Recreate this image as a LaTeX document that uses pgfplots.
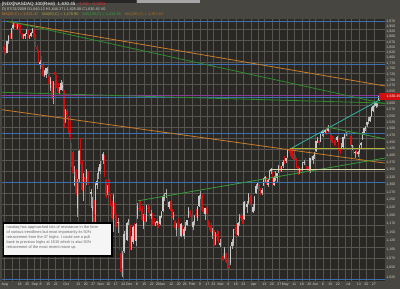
\documentclass[border=0pt]{standalone}
\usepackage{pgfplots}
\pgfplotsset{compat=1.18}
\usepackage{pgfplotstable}
\usepackage{fontspec}
\setmainfont{Liberation Sans}
\definecolor{framec}{HTML}{474640}
\definecolor{plotbg}{HTML}{2A2825}
\definecolor{gridc}{HTML}{57554F}
\definecolor{labc}{HTML}{D0D0C8}
\definecolor{upc}{HTML}{CACACA}
\definecolor{upw}{HTML}{A8A8A8}
\definecolor{dnc}{HTML}{D01010}
\definecolor{orc}{HTML}{C87D2A}
\definecolor{grc}{HTML}{2E8B2E}
\definecolor{gr3}{HTML}{3A9A3A}
\definecolor{fibc}{HTML}{3D6FB0}
\definecolor{tealc}{HTML}{2FB8A0}
\definecolor{yel1}{HTML}{B0B035}
\definecolor{yel2}{HTML}{D8D8A8}
\definecolor{purc}{HTML}{8A3A9A}
\definecolor{hdrred}{HTML}{E03030}
\definecolor{ma1}{HTML}{D08030}
\definecolor{ma2}{HTML}{B8A840}
\definecolor{ma3}{HTML}{40A040}
\definecolor{ma4}{HTML}{B07020}

\pgfplotstableread{
i O H L C
0 1858 1862 1822 1838
1 1838 1845 1815 1820
2 1825 1880 1822 1878
3 1876 1910 1868 1905
4 1900 1918 1888 1893
5 1895 1945 1890 1942
6 1945 1975 1938 1960
7 1958 1972 1948 1955
8 1952 1965 1935 1950
9 1945 1968 1940 1962
10 1962 1970 1945 1950
11 1952 1958 1912 1918
12 1915 1920 1890 1895
13 1898 1915 1892 1910
14 1905 1918 1890 1912
15 1915 1938 1912 1935
16 1930 1932 1895 1898
17 1898 1910 1890 1905
18 1905 1925 1900 1918
19 1920 1945 1918 1940
20 1935 1937 1895 1898
21 1905 1912 1850 1855
22 1852 1860 1825 1840
23 1835 1838 1778 1780
24 1768 1790 1750 1782
25 1805 1810 1758 1775
26 1772 1778 1718 1720
27 1725 1745 1712 1738
28 1725 1755 1710 1752
29 1740 1760 1728 1750
30 1718 1735 1680 1682
31 1668 1712 1652 1705
32 1695 1698 1620 1622
33 1630 1695 1600 1690
34 1735 1752 1700 1722
35 1718 1722 1665 1668
36 1670 1688 1645 1650
37 1655 1672 1640 1655
38 1660 1702 1658 1688
39 1665 1692 1655 1678
40 1655 1660 1505 1520
41 1530 1580 1525 1575
42 1570 1578 1540 1555
43 1548 1552 1480 1482
44 1495 1530 1462 1468
45 1440 1445 1360 1410
46 1415 1425 1335 1338
47 1300 1365 1295 1330
48 1345 1355 1265 1270
49 1225 1320 1195 1285
50 1320 1420 1305 1418
51 1450 1465 1370 1385
52 1375 1380 1280 1282
53 1290 1340 1245 1335
54 1325 1365 1300 1310
55 1320 1355 1300 1350
56 1342 1348 1300 1305
57 1290 1295 1230 1262
58 1270 1285 1225 1275
59 1215 1260 1180 1228
60 1222 1250 1175 1192
61 1205 1305 1180 1300
62 1300 1340 1285 1312
63 1335 1360 1320 1352
64 1345 1380 1335 1370
65 1368 1385 1355 1362
66 1385 1412 1370 1405
67 1398 1402 1325 1328
68 1315 1320 1255 1262
69 1275 1300 1265 1295
70 1315 1318 1262 1275
71 1268 1272 1232 1250
72 1238 1245 1190 1192
73 1195 1268 1150 1262
74 1240 1258 1198 1205
75 1190 1205 1165 1172
76 1180 1192 1148 1180
77 1172 1180 1098 1100
78 1092 1108 1030 1038
79 1050 1095 1025 1088
80 1095 1155 1090 1145
81 1150 1158 1120 1135
82 1128 1182 1125 1178
83 1180 1190 1172 1185
84 1170 1172 1100 1102
85 1110 1140 1098 1135
86 1122 1170 1115 1165
87 1162 1178 1128 1135
88 1125 1178 1110 1175
89 1195 1240 1190 1230
90 1225 1248 1212 1222
91 1232 1245 1215 1228
92 1220 1230 1185 1188
93 1170 1205 1160 1200
94 1202 1205 1172 1182
95 1185 1235 1180 1232
96 1225 1235 1210 1220
97 1222 1230 1190 1198
98 1200 1218 1190 1205
99 1205 1210 1172 1180
100 1185 1192 1170 1175
101 1175 1180 1168 1178
102 1178 1185 1172 1182
103 1180 1182 1162 1172
104 1175 1200 1172 1198
105 1195 1215 1192 1210
106 1215 1265 1212 1262
107 1258 1272 1245 1260
108 1268 1285 1255 1270
109 1255 1258 1228 1232
110 1228 1245 1222 1243
111 1245 1248 1215 1218
112 1215 1220 1192 1198
113 1195 1212 1188 1200
114 1185 1188 1158 1162
115 1158 1178 1140 1175
116 1182 1192 1162 1180
117 1175 1178 1130 1132
118 1140 1178 1135 1175
119 1160 1168 1145 1150
120 1140 1165 1132 1158
121 1160 1182 1155 1170
122 1172 1188 1168 1185
123 1195 1228 1192 1222
124 1215 1218 1195 1198
125 1198 1205 1172 1175
126 1165 1185 1158 1180
127 1182 1202 1172 1200
128 1205 1222 1195 1198
129 1192 1232 1185 1228
130 1230 1265 1228 1262
131 1262 1278 1252 1268
132 1262 1268 1212 1218
133 1218 1228 1205 1215
134 1205 1225 1188 1222
135 1222 1228 1205 1208
136 1185 1188 1165 1168
137 1172 1180 1158 1168
138 1172 1178 1148 1150
139 1140 1162 1130 1152
140 1152 1158 1110 1112
141 1115 1152 1112 1148
142 1145 1158 1125 1140
143 1145 1155 1120 1122
144 1112 1130 1108 1118
145 1108 1112 1075 1078
146 1082 1092 1068 1072
147 1080 1108 1075 1100
148 1090 1092 1062 1065
149 1068 1075 1048 1062
150 1058 1072 1043 1050
151 1062 1110 1058 1108
152 1110 1130 1102 1122
153 1120 1160 1110 1158
154 1160 1165 1145 1158
155 1165 1175 1140 1142
156 1142 1180 1138 1178
157 1178 1205 1168 1195
158 1198 1208 1185 1192
159 1195 1202 1175 1180
160 1190 1245 1188 1242
161 1238 1245 1222 1225
162 1228 1248 1210 1235
163 1240 1272 1238 1268
164 1260 1265 1238 1242
165 1225 1228 1198 1205
166 1212 1238 1208 1228
167 1222 1262 1215 1260
168 1272 1302 1268 1295
169 1295 1308 1285 1305
170 1298 1302 1280 1295
171 1285 1290 1265 1268
172 1272 1288 1265 1282
173 1298 1322 1295 1320
174 1318 1328 1308 1325
175 1320 1325 1300 1305
176 1300 1318 1292 1315
177 1318 1350 1315 1345
178 1345 1358 1335 1352
179 1340 1342 1300 1302
180 1298 1328 1295 1325
181 1318 1345 1312 1318
182 1322 1340 1310 1338
183 1342 1368 1340 1362
184 1355 1365 1348 1352
185 1345 1365 1342 1355
186 1362 1385 1358 1378
187 1385 1398 1372 1380
188 1382 1392 1375 1390
189 1395 1425 1392 1422
190 1420 1428 1410 1418
191 1425 1430 1400 1420
192 1420 1425 1388 1392
193 1400 1410 1385 1398
194 1390 1402 1382 1385
195 1388 1392 1358 1368
196 1360 1362 1332 1335
197 1338 1358 1335 1352
198 1350 1360 1340 1345
199 1352 1378 1348 1375
200 1375 1385 1368 1378
201 1380 1392 1365 1370
202 1362 1365 1345 1352
203 1355 1360 1345 1348
204 1345 1392 1340 1390
205 1388 1398 1378 1380
206 1385 1402 1372 1398
207 1400 1412 1390 1410
208 1418 1455 1415 1452
209 1450 1468 1445 1460
210 1455 1458 1438 1448
211 1452 1482 1450 1480
212 1485 1495 1472 1490
213 1485 1495 1470 1488
214 1490 1500 1482 1495
215 1498 1505 1475 1490
216 1492 1515 1488 1500
217 1495 1500 1482 1492
218 1478 1480 1452 1458
219 1460 1472 1448 1450
220 1450 1458 1435 1448
221 1448 1460 1440 1445
222 1458 1472 1452 1468
223 1458 1460 1418 1420
224 1422 1428 1408 1418
225 1428 1448 1425 1435
226 1432 1470 1430 1468
227 1465 1482 1462 1478
228 1480 1490 1472 1485
229 1485 1492 1468 1478
230 1485 1495 1478 1482
231 1470 1472 1440 1442
232 1435 1440 1420 1438
233 1432 1435 1405 1408
234 1410 1418 1392 1412
235 1418 1420 1402 1410
236 1405 1418 1395 1412
237 1415 1440 1405 1438
238 1438 1450 1430 1445
239 1462 1490 1458 1488
240 1485 1505 1480 1502
241 1500 1512 1492 1508
242 1515 1528 1508 1525
243 1530 1545 1520 1540
244 1532 1550 1528 1545
245 1550 1585 1545 1582
246 1570 1595 1565 1592
247 1595 1605 1585 1600
248 1590 1608 1582 1604
249 1595 1602 1585 1598
250 1612 1642 1610 1636
251 1640 1646 1625 1630
}\ndx

\begin{document}
\begin{tikzpicture}[x=1bp,y=1bp]
\fill[framec] (0,0) rectangle (400,289);
\fill[black!85] (0,286) rectangle (136,289);
\fill[gray!70] (137,286) rectangle (200,289);
\begin{axis}[
  at={(2bp,8bp)}, anchor=south west,
  width=383bp, height=262bp, scale only axis,
  ymode=log, ymin=1015, ymax=1990,
  xmin=-1.33, xmax=254,
  axis background/.style={fill=plotbg},
  axis line style={draw=none},
  tick style={draw=none}, major tick length=0pt,
  xmajorgrids=true, ymajorgrids=false,
  major grid style={gridc, line width=0.5bp},
  xtick={0.5,5.5,10.5,15.5,20.5,24.5,29.5,34.5,39.5,44.5,49.5,54.5,59.5,64.5,69.5,74.5,79.5,83.5,88.5,93.5,98.5,102.5,106.5,111.5,116.5,120.5,125.5,130.5,135.5,139.5,144.5,149.5,154.5,159.5,164.5,169.5,173.5,178.5,183.5,188.5,193.5,198.5,203.5,207.5,212.5,217.5,222.5,227.5,231.5,236.5,241.5,246.5},
  xticklabels={},
  extra x ticks={0.5,10.5,15.5,20.5,24.5,29.5,34.5,41.5,49.5,54.5,59.5,64.5,69.5,74.5,79.5,83.5,88.5,93.5,98.5,102.5,105.5,111.5,116.5,120.5,125.5,130.5,135.5,139.5,144.5,149.5,154.5,159.5,166.5,173.5,178.5,183.5,187.5,193.5,198.5,203.5,207.5,212.5,217.5,222.5,229.5,236.5,241.5,246.5},
  extra x tick labels={Aug,18,25,Sep,8,15,22,Oct,13,20,27,Nov,10,17,24,Dec,8,15,22,29,Jan,12,20,26,Feb,9,17,23,Mar,9,16,23,Apr,13,20,27,May,11,18,26,Jun,8,15,22,Jul,13,20,27},
  extra x tick style={grid=none},
  xticklabel style={font=\fontsize{3.6}{3.6}\selectfont, text=labc, inner sep=0pt, anchor=north, yshift=-1.6bp},
  ytick={1025,1050,1075,1100,1125,1150,1175,1200,1225,1250,1275,1300,1325,1350,1375,1400,1425,1450,1475,1500,1525,1550,1575,1600,1650,1675,1700,1725,1750,1775,1800,1825,1850,1875,1900,1925,1950,1975},
  yticklabel pos=right,
  log ticks with fixed point,
  yticklabel style={font=\fontsize{3.5}{3.5}\selectfont, text=labc, inner sep=0pt, anchor=west, xshift=1.2bp,
    /pgf/number format/fixed, /pgf/number format/precision=0, /pgf/number format/1000 sep={,}, /pgf/number format/assume math mode=true},
  extra y ticks={1937.3,1883.8,1831.7,1781.1,1731.9,1684.0,1637.5,1592.2,1548.2,1505.5,1463.9,1423.4,1384.1,1345.8,1308.6,1272.5,1237.3,1203.1,1169.9,1137.5,1106.1,1075.5,1045.8},
  extra y tick style={grid=major, yticklabel={}},
]
% candles: up (white), wick then body
\addplot[forget plot, draw=none, mark=none,
  restrict expr to domain={\thisrow{C}-\thisrow{O}}{0:100000},
  error bars/.cd, y dir=plus, y explicit, error mark=none,
  error bar style={draw=upw, line width=0.45bp}]
  table[x=i, y=L, y error plus expr={\thisrow{H}-\thisrow{L}}]{\ndx};
\addplot[forget plot, draw=none, mark=none,
  restrict expr to domain={\thisrow{C}-\thisrow{O}}{0:100000},
  error bars/.cd, y dir=plus, y explicit, error mark=none,
  error bar style={draw=upc, line width=1.1bp}]
  table[x=i, y=O, y error plus expr={\thisrow{C}-\thisrow{O}+0.8}]{\ndx};
% candles: down (red)
\addplot[forget plot, draw=none, mark=none,
  restrict expr to domain={\thisrow{C}-\thisrow{O}}{-100000:-0.01},
  error bars/.cd, y dir=plus, y explicit, error mark=none,
  error bar style={draw=dnc, line width=0.45bp}]
  table[x=i, y=L, y error plus expr={\thisrow{H}-\thisrow{L}}]{\ndx};
\addplot[forget plot, draw=none, mark=none,
  restrict expr to domain={\thisrow{C}-\thisrow{O}}{-100000:-0.01},
  error bars/.cd, y dir=plus, y explicit, error mark=none,
  error bar style={draw=dnc, line width=1.1bp}]
  table[x=i, y=C, y error plus expr={\thisrow{O}-\thisrow{C}}]{\ndx};
% fibonacci horizontals
\addplot[forget plot, fibc, line width=0.8bp] coordinates {(-1.33,1018) (254,1018)};
\addplot[forget plot, fibc, line width=0.8bp] coordinates {(-1.33,1306.2) (254,1306.2)};
\addplot[forget plot, fibc, line width=0.8bp] coordinates {(-1.33,1484.4) (254,1484.4)};
\addplot[forget plot, purc, line width=0.6bp] coordinates {(-1.33,1636) (254,1636)};
\addplot[forget plot, fibc, line width=0.8bp] coordinates {(-1.33,1628.5) (254,1628.5)};
\addplot[forget plot, fibc, line width=0.8bp] coordinates {(-1.33,1772.6) (254,1772.6)};
\addplot[forget plot, fibc, line width=0.8bp] coordinates {(-1.33,1977.7) (254,1977.7)};
% trendlines
\addplot[forget plot, orc, line width=0.8bp] coordinates {(2,1978) (254,1675)};
\addplot[forget plot, grc, line width=0.8bp] coordinates {(2,1980) (254,1600)};
\addplot[forget plot, grc, line width=0.8bp] coordinates {(-1.33,1648) (254,1603)};
\addplot[forget plot, orc, line width=0.8bp] coordinates {(-1.33,1576) (254,1374)};
\addplot[forget plot, gr3, line width=0.8bp] coordinates {(89.3,1247) (254,1392)};
\addplot[forget plot, tealc, line width=0.8bp] coordinates {(192,1428.5) (254,1628.8)};
\addplot[forget plot, yel1, line width=0.9bp] coordinates {(190.7,1428) (254,1428)};
\addplot[forget plot, yel2, line width=0.8bp] coordinates {(177.3,1353.5) (254,1353.5)};
\addplot[forget plot, gr3, line width=0.8bp] coordinates {(215.3,1507.7) (254,1462)};
\end{axis}
% header
\node[anchor=west, inner sep=0pt, font=\fontsize{4.6}{4.8}\selectfont, text=white] at (2,284.2)
  {[NDX]NASDAQ 100(Real)\ \ 1,630.45\ \ \textcolor{hdrred}{-5.50\ \ -0.34\%}};
\node[anchor=west, inner sep=0pt, font=\fontsize{3.8}{4}\selectfont, text=labc] at (2,279)
  {D) 07/31/2009 O1,640.12 H1,646.37 L1,625.08 C1,630.45 V0};
\node[anchor=west, inner sep=0pt, font=\fontsize{3.9}{4}\selectfont] at (2,274.6)
  {\textcolor{ma1}{MA(20,C) = 1,521.47}\hspace{4bp}\textcolor{ma2}{MA(50,C) = 1,478.90}\hspace{4bp}\textcolor{ma3}{MA(100,C) = 1,414.36}\hspace{4bp}\textcolor{ma4}{MA(200,C) = 1,283.61}};
% current price label
\fill[dnc] (379,189) rectangle (400,195.6);
\node[anchor=west, inner sep=0pt, font=\fontsize{3.5}{3.5}\selectfont, text=white] at (386.5,192.3) {1,630.45};
% annotation box
\draw[line width=1.2bp, black, fill=white!96!black] (3.5,33) rectangle (112,66);
\node[anchor=north west, inner sep=0pt, align=left, font=\fontsize{3.9}{5.1}\selectfont, text=black!60] at (6.5,63.5)
  {nasdaq has approached lots of resistance in the form\\
   of various trendlines but most importantly its 50\%\\
   retracement from the 07 highs. I could see a pull\\
   back to previous highs at 1515 which is also 50\%\\
   retracement of the most recent move up};
\pgfresetboundingbox
\useasboundingbox (0,0) rectangle (400,289);
\end{tikzpicture}
\end{document}
